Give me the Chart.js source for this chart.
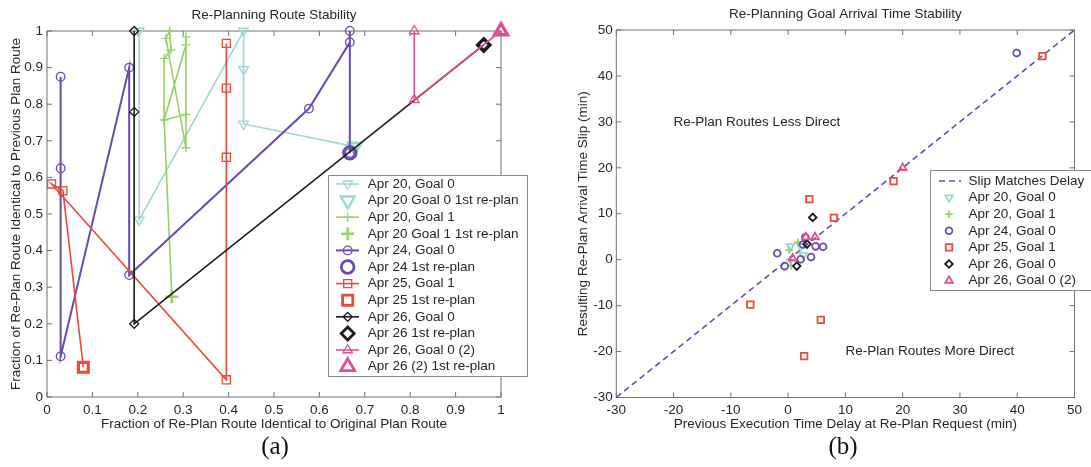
<!DOCTYPE html>
<html>
<head>
<meta charset="utf-8">
<script src="https://cdn.jsdelivr.net/npm/chart.js@4.4.1/dist/chart.umd.min.js"></script>
<style>
  body { margin: 0; background: #fff; width: 1091px; height: 467px; overflow: hidden; position: relative; }
  canvas { position: absolute; top: 0; }
  #left { left: 0; }
  #right { left: 546px; }
  .tag { position: absolute; top: 432px; font: 25px 'Liberation Serif', 'DejaVu Serif', serif; color: #111; transform: translateX(-50%); }
</style>
</head>
<body>
<canvas id="left" width="546" height="467"></canvas>
<canvas id="right" width="545" height="467"></canvas>
<div class="tag" style="left:275px">(a)</div>
<div class="tag" style="left:843px">(b)</div>
<script>
const FONT = "'Liberation Sans', Arial, sans-serif";
const TEXT = '#262626';

// ---- (a) route stability ----
const leftTicksX = ['0', '0.1', '0.2', '0.3', '0.4', '0.5', '0.6', '0.7', '0.8', '0.9', '1'];
const leftTicksY = ['0', '0.1', '0.2', '0.3', '0.4', '0.5', '0.6', '0.7', '0.8', '0.9', '1'];

const apr20g0X = [0.678, 0.433, 0.433, 0.433, 0.203, 0.203];
const apr20g0Y = [0.684, 0.746, 0.895, 1.0, 0.484, 1.0];
const apr20g1X = [0.275, 0.258, 0.306, 0.306, 0.306, 0.262, 0.270, 0.273, 0.258, 0.258, 0.306];
const apr20g1Y = [0.274, 0.757, 0.962, 0.984, 0.681, 0.980, 1.0, 0.948, 0.925, 0.757, 0.772];
const apr24g0X = [0.667, 0.667, 0.667, 0.577, 0.181, 0.181, 0.030, 0.030, 0.030];
const apr24g0Y = [0.667, 1.0, 0.969, 0.788, 0.333, 0.900, 0.111, 0.875, 0.625];
const apr25g1X = [0.080, 0.035, 0.010, 0.395, 0.395, 0.395, 0.395];
const apr25g1Y = [0.081, 0.564, 0.582, 0.047, 0.655, 0.844, 0.966];
const apr26g0X = [0.962, 0.192, 0.192, 0.192];
const apr26g0Y = [0.962, 0.200, 0.779, 1.0];
const apr26g0bX = [1.0, 0.809, 0.809];
const apr26g0bY = [1.0, 0.812, 1.0];

// ---- (b) arrival time stability ----
const rightTicksX = ['-30', '-20', '-10', '0', '10', '20', '30', '40', '50'];
const rightTicksY = ['-30', '-20', '-10', '0', '10', '20', '30', '40', '50'];

const slipX = [-30, 50];
const slipY = [-30, 50];
const b20g0X = [0.4, 2.2, 2.6];
const b20g0Y = [2.9, 2.9, 1.0];
const b20g1X = [0.2, 1.7, 0.5, 0.3];
const b20g1Y = [2.1, 3.8, -1.3, 0.0];
const b24g0X = [39.9, -1.9, -0.6, 2.2, 3.0, 2.6, 4.8, 6.1, 4.0];
const b24g0Y = [45.0, 1.4, -1.4, 0.1, 4.9, 3.3, 2.9, 2.8, 0.6];
const b25g1X = [44.4, 18.4, 8.0, 3.7, -6.6, 5.7, 2.8];
const b25g1Y = [44.3, 17.1, 9.1, 13.2, -9.8, -13.1, -21.0];
const b26g0X = [4.3, 3.3, 1.5];
const b26g0Y = [9.2, 3.4, -1.4];
const b26g0bX = [20.0, 3.1, 4.7, 0.8];
const b26g0bY = [20.0, 4.9, 4.9, 0.3];

const annotText = ['Re-Plan Routes Less Direct', 'Re-Plan Routes More Direct'];
const annotX = [-20, 10];
const annotY = [30, -20];

const CYAN = '#9fd6d4', GREEN = '#96d16a', PURPLE = '#6a4bab', RED = '#e84a3b', BLACK = '#1a1a1a', PINK = '#de4f98';
const NONE = 'rgba(0,0,0,0)';

function pts(xs, ys) { return xs.map((x, i) => ({ x: x, y: ys[i] })); }

function set(label, xs, ys, color, style, r, bw, line, rot) {
  return {
    label: label, data: pts(xs, ys), showLine: line, borderColor: color, borderWidth: 1.6,
    backgroundColor: NONE, pointBorderColor: color, pointBackgroundColor: NONE,
    pointStyle: style, pointRadius: r, pointHoverRadius: r, pointBorderWidth: bw,
    pointRotation: rot || 0, tension: 0, clip: false
  };
}

// axes box with inward ticks
const boxTicks = {
  id: 'boxTicks',
  beforeDatasetsDraw(chart) {
    const { ctx, chartArea: a, scales } = chart;
    ctx.save();
    ctx.strokeStyle = '#707070';
    ctx.lineWidth = 1;
    ctx.strokeRect(a.left, a.top, a.right - a.left, a.bottom - a.top);
    ctx.beginPath();
    scales.x.ticks.forEach(t => {
      const px = scales.x.getPixelForValue(t.value);
      ctx.moveTo(px, a.bottom); ctx.lineTo(px, a.bottom - 5);
      ctx.moveTo(px, a.top); ctx.lineTo(px, a.top + 5);
    });
    scales.y.ticks.forEach(t => {
      const py = scales.y.getPixelForValue(t.value);
      ctx.moveTo(a.left, py); ctx.lineTo(a.left + 5, py);
      ctx.moveTo(a.right, py); ctx.lineTo(a.right - 5, py);
    });
    ctx.stroke();
    ctx.restore();
  }
};

const heading = {
  id: 'heading',
  afterDraw(chart, args, o) {
    const { ctx, chartArea: a } = chart;
    ctx.save();
    ctx.font = '13.5px ' + FONT;
    ctx.fillStyle = TEXT;
    ctx.textAlign = 'center';
    ctx.textBaseline = 'middle';
    ctx.fillText(o.text, (a.left + a.right) / 2, o.y);
    ctx.restore();
  }
};

const notes = {
  id: 'notes',
  afterDatasetsDraw(chart, args, o) {
    if (!o.texts) return;
    const { ctx, scales } = chart;
    ctx.save();
    ctx.font = '13.5px ' + FONT;
    ctx.fillStyle = TEXT;
    ctx.textBaseline = 'middle';
    o.texts.forEach((t, i) => {
      ctx.fillText(t, scales.x.getPixelForValue(o.xs[i]), scales.y.getPixelForValue(o.ys[i]));
    });
    ctx.restore();
  }
};

const boxLegend = {
  id: 'boxLegend',
  afterDatasetsDraw(chart, args, o) {
    const ctx = chart.ctx;
    ctx.save();
    ctx.fillStyle = '#fff';
    ctx.fillRect(o.left, o.top, o.width, o.height);
    ctx.strokeStyle = '#8a8a8a';
    ctx.lineWidth = 1;
    ctx.strokeRect(o.left + 0.5, o.top + 0.5, o.width, o.height);
    chart.data.datasets.forEach((ds, i) => {
      const y = o.row0 + i * o.step;
      if (ds.showLine) {
        ctx.strokeStyle = ds.borderColor;
        ctx.lineWidth = ds.borderWidth;
        ctx.setLineDash(ds.borderDash || []);
        ctx.beginPath(); ctx.moveTo(o.line0, y); ctx.lineTo(o.line1, y); ctx.stroke();
        ctx.setLineDash([]);
      }
      if (ds.pointRadius > 0) {
        ctx.strokeStyle = ds.pointBorderColor;
        ctx.fillStyle = NONE;
        ctx.lineWidth = ds.pointBorderWidth;
        Chart.helpers.drawPoint(ctx, {
          pointStyle: ds.pointStyle, rotation: ds.pointRotation,
          radius: ds.pointRadius, borderWidth: ds.pointBorderWidth
        }, o.mark, y);
      }
      ctx.fillStyle = TEXT;
      ctx.font = '13.5px ' + FONT;
      ctx.textBaseline = 'middle';
      ctx.fillText(ds.label, o.text, y);
    });
    ctx.restore();
  }
};

function axis(min, max, step, labels, title, pad, fit, isX) {
  return {
    type: 'linear', min: min, max: max,
    ticks: {
      stepSize: step, autoSkip: false, maxRotation: 0, padding: pad,
      color: TEXT, font: { family: FONT, size: 13.5 },
      callback: (v, i) => labels[i]
    },
    grid: { display: false, drawTicks: false },
    border: { display: false },
    title: {
      display: true, text: title, color: TEXT, font: { family: FONT, size: 13.5 },
      padding: isX ? { top: 0, bottom: fit.titlePad } : { top: fit.titlePad, bottom: 0 }
    },
    afterFit: s => { if (isX) s.height = fit.size; else s.width = fit.size; }
  };
}

// ---- chart (a) ----
const leftSets = [
  set('Apr 20, Goal 0', apr20g0X, apr20g0Y, CYAN, 'triangle', 5.5, 1.3, true, 180),
  set('Apr 20 Goal 0 1st re-plan', apr20g0X.slice(0, 1), apr20g0Y.slice(0, 1), CYAN, 'triangle', 8, 2.5, false, 180),
  set('Apr 20, Goal 1', apr20g1X, apr20g1Y, GREEN, 'cross', 4.5, 1.3, true),
  set('Apr 20 Goal 1 1st re-plan', apr20g1X.slice(0, 1), apr20g1Y.slice(0, 1), GREEN, 'cross', 6.5, 2.5, false),
  set('Apr 24, Goal 0', apr24g0X, apr24g0Y, PURPLE, 'circle', 4.3, 1.3, true),
  set('Apr 24 1st re-plan', apr24g0X.slice(0, 1), apr24g0Y.slice(0, 1), PURPLE, 'circle', 6.3, 2.8, false),
  set('Apr 25, Goal 1', apr25g1X, apr25g1Y, RED, 'rect', 5.7, 1.3, true),
  set('Apr 25 1st re-plan', apr25g1X.slice(0, 1), apr25g1Y.slice(0, 1), RED, 'rect', 7.2, 2.8, false),
  set('Apr 26, Goal 0', apr26g0X, apr26g0Y, BLACK, 'rectRot', 4.5, 1.3, true),
  set('Apr 26 1st re-plan', apr26g0X.slice(0, 1), apr26g0Y.slice(0, 1), BLACK, 'rectRot', 6.5, 2.8, false),
  set('Apr 26, Goal 0 (2)', apr26g0bX, apr26g0bY, PINK, 'triangle', 5.5, 1.3, true),
  set('Apr 26 (2) 1st re-plan', apr26g0bX.slice(0, 1), apr26g0bY.slice(0, 1), PINK, 'triangle', 8, 2.8, false)
];
leftSets[4].borderWidth = 2;
leftSets.forEach((d, i) => { d.order = leftSets.length - i; });

new Chart(document.getElementById('left'), {
  type: 'scatter',
  data: { datasets: leftSets },
  options: {
    responsive: false, animation: false,
    layout: { padding: { top: 31, right: 45, bottom: 0, left: 0 } },
    scales: {
      x: axis(0, 1, 0.1, leftTicksX, 'Fraction of Re-Plan Route Identical to Original Plan Route', 5, { size: 70, titlePad: 35 }, true),
      y: axis(0, 1, 0.1, leftTicksY, 'Fraction of Re-Plan Route Identical to Previous Plan Route', 4, { size: 47, titlePad: 8 }, false)
    },
    plugins: {
      legend: { display: false }, tooltip: { enabled: false },
      heading: { text: 'Re-Planning Route Stability', y: 15.5 },
      boxLegend: { left: 328, top: 175, width: 199, height: 201, row0: 184, step: 16.6, line0: 336, line1: 359, mark: 347.7, text: 367.7 }
    }
  },
  plugins: [boxTicks, heading, boxLegend]
});

// ---- chart (b) ----
const slipSet = set('Slip Matches Delay', slipX, slipY, PURPLE, 'circle', 0, 0, true);
slipSet.borderDash = [6, 4];
const rightSets = [
  slipSet,
  set('Apr 20, Goal 0', b20g0X, b20g0Y, CYAN, 'triangle', 4.3, 1.8, false, 180),
  set('Apr 20, Goal 1', b20g1X, b20g1Y, GREEN, 'cross', 3.8, 1.8, false),
  set('Apr 24, Goal 0', b24g0X, b24g0Y, PURPLE, 'circle', 3.4, 1.8, false),
  set('Apr 25, Goal 1', b25g1X, b25g1Y, RED, 'rect', 4.6, 1.8, false),
  set('Apr 26, Goal 0', b26g0X, b26g0Y, BLACK, 'rectRot', 3.8, 1.8, false),
  set('Apr 26, Goal 0 (2)', b26g0bX, b26g0bY, PINK, 'triangle', 4.4, 1.8, false)
];
rightSets.forEach((d, i) => { d.order = rightSets.length - i; });

new Chart(document.getElementById('right'), {
  type: 'scatter',
  data: { datasets: rightSets },
  options: {
    responsive: false, animation: false,
    layout: { padding: { top: 30, right: 16.5, bottom: 0, left: 0 } },
    scales: {
      x: axis(-30, 50, 10, rightTicksX, 'Previous Execution Time Delay at Re-Plan Request (min)', 5, { size: 69.5, titlePad: 35 }, true),
      y: axis(-30, 50, 10, rightTicksY, 'Resulting Re-Plan Arrival Time Slip (min)', 3.5, { size: 70.3, titlePad: 29.4 }, false)
    },
    plugins: {
      legend: { display: false }, tooltip: { enabled: false },
      heading: { text: 'Re-Planning Goal Arrival Time Stability', y: 14 },
      notes: { texts: annotText, xs: annotX, ys: annotY },
      boxLegend: { left: 384, top: 170, width: 170, height: 120, row0: 181, step: 16.6, line0: 393, line1: 415, mark: 403, text: 422.6 }
    }
  },
  plugins: [boxTicks, heading, notes, boxLegend]
});
</script>
</body>
</html>
